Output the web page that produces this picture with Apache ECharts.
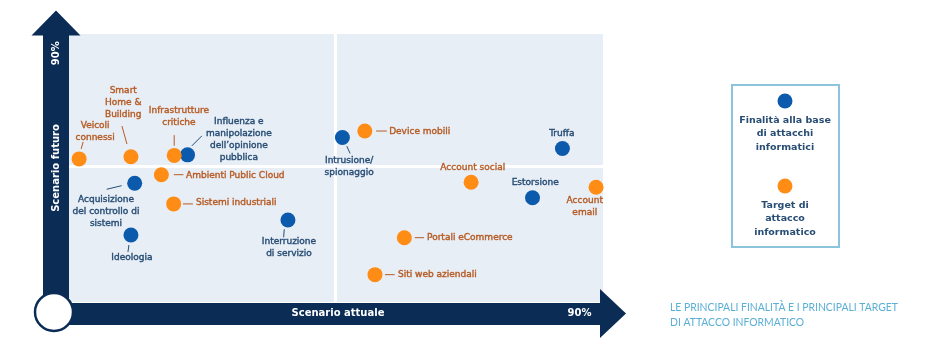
<!DOCTYPE html>
<html><head><meta charset="utf-8">
<script src="https://cdn.jsdelivr.net/npm/echarts@6/dist/echarts.min.js"></script>
<style>html,body{margin:0;padding:0;background:#fff}#c{width:950px;height:346px}</style>
</head><body><div id="c"></div>
<script>
// ---- data ----
const seriesNames = ['Finalità alla base di attacchi informatici', 'Target di attacco informatico'];
const legendLabels = ['Finalità alla base\ndi attacchi\ninformatici', 'Target di\nattacco\ninformatico'];

const finalitaNames = ['Influenza e\nmanipolazione\ndell’opinione\npubblica', 'Acquisizione\ndel controllo di\nsistemi', 'Ideologia', 'Interruzione\ndi servizio', 'Intrusione/\nspionaggio', 'Truffa', 'Estorsione'];
const finalitaX = [22.2, 12.3, 11.6, 41.0, 51.2, 92.4, 86.8];
const finalitaY = [54.9, 44.3, 25.0, 30.6, 61.4, 57.3, 38.9];

const targetNames = ['Veicoli\nconnessi', 'Smart\nHome &\nBuilding', 'Infrastrutture\ncritiche', 'Ambienti Public Cloud', 'Sistemi industriali', 'Device mobili', 'Account social', 'Account\nemail', 'Portali eCommerce', 'Siti web aziendali'];
const targetX = [1.9, 11.6, 19.7, 17.3, 19.6, 55.4, 75.3, 98.7, 62.8, 57.3];
const targetY = [53.4, 54.2, 54.7, 47.5, 36.6, 63.8, 44.7, 42.8, 24.0, 10.2];

const dividerX = 49.8, dividerY = 50.7;
const xTickValues = [95.6], xTickLabels = ['90%'];
const yTickValues = [92.8], yTickLabels = ['90%'];
const xAxisName = 'Scenario attuale', yAxisName = 'Scenario futuro';
const captionText = 'LE PRINCIPALI FINALITÀ E I PRINCIPALI TARGET\nDI ATTACCO INFORMATICO';

// ---- label layout (pixel styles) ----
const finalitaLabelPos = [[51.3,-15,'center'],[-28.7,28.7,'center'],[1,23,'center'],[1,28,'center'],[6.7,29.7,'center'],[-0.6,-14.3,'center'],[2.7,-14.7,'center']];
const targetLabelPos = [[16,-27.5,'center'],[-7.7,-53.7,'center'],[4.7,-38.3,'center'],[24.7,1.3,'left'],[22.3,-1,'left'],[24.3,1,'left'],[1.7,-14.3,'center'],[-11.3,19.7,'center'],[22.7,0.3,'left'],[23,0,'left']];
const finalitaLeaders = [[4.3,-9,14.3,-19],[-13,2.4,-28,6],[-2,10,-3,17],[-3.7,9.3,-4.3,17.3],[4.4,8.7,7.7,16],null,null];
const targetLeaders = [[2,-10,4,-17],[-4,-12.7,-9,-30.7],[0,-9.7,0,-20.3],[12.4,0,22,0],[9.3,0,19.3,0],[11.3,0,22,0],null,null,[10.4,0,19.7,0],[10,0,19.7,0]];

const NAVY = '#0b2c55', BG = '#e8eef6', BLUE = '#0b5aab', ORANGE = '#ff8c14';
const BLUE_TXT = '#274d74', ORANGE_TXT = '#b65b24', CAPTION = '#5aafd6', LEG_BORDER = '#8cc4de';
const FONT = 'DejaVu Sans';
const G = {left: 69, right: 603, top: 34, bottom: 302};

function buildPoints(names, xs, ys, pos, color) {
  return names.map((n, i) => ({
    name: n, value: [xs[i], ys[i]],
    label: {
      show: true, position: ['50%', '50%'], offset: [pos[i][0], pos[i][1]],
      align: pos[i][2], verticalAlign: 'middle', formatter: '{b}',
      color: color, fontSize: 9, lineHeight: 12, fontFamily: FONT,
      textBorderColor: color, textBorderWidth: 0.4
    }
  }));
}
const leaderData = [];
finalitaX.forEach((x, i) => leaderData.push([x, finalitaY[i], i, 0]));
targetX.forEach((x, i) => leaderData.push([x, targetY[i], i, 1]));

const chart = echarts.init(document.getElementById('c'), null, {renderer: 'canvas'});
chart.setOption({
  animation: false,
  textStyle: {fontFamily: FONT},
  grid: {left: G.left, right: 950 - G.right, top: G.top, bottom: 346 - G.bottom, show: true, backgroundColor: BG, borderWidth: 0, outerBoundsMode: 'none', containLabel: false},
  xAxis: {
    type: 'value', min: 0, max: 100, position: 'bottom', offset: 11.5,
    splitLine: {show: false}, axisTick: {show: false},
    axisLine: {show: true, onZero: false, symbol: ['none', 'triangle'], symbolSize: [49, 26], symbolOffset: [0, 10],
      lineStyle: {color: NAVY, width: 22}},
    axisLabel: {show: true, customValues: xTickValues, formatter: v => xTickLabels[xTickValues.indexOf(v)] || '',
      color: '#fff', fontWeight: 'bold', fontSize: 10, margin: 0, verticalAlign: 'middle', align: 'center'}
  },
  yAxis: {
    type: 'value', min: 0, max: 100, position: 'left', offset: 13,
    splitLine: {show: false}, axisTick: {show: false},
    axisLine: {show: true, onZero: false, symbol: ['none', 'triangle'], symbolSize: [49, 25], symbolOffset: [0, 11],
      lineStyle: {color: NAVY, width: 26}},
    axisLabel: {show: true, customValues: yTickValues, formatter: v => yTickLabels[yTickValues.indexOf(v)] || '',
      rotate: 90, color: '#fff', fontWeight: 'bold', fontSize: 10, margin: 0, verticalAlign: 'middle', align: 'center'}
  },
  series: [
    {
      type: 'line', data: [], silent: true, z: 1,
      markLine: {silent: true, symbol: 'none', label: {show: false}, animation: false,
        lineStyle: {color: '#ffffff', width: 3, type: 'solid'},
        emphasis: {disabled: true},
        data: [{xAxis: dividerX}, {yAxis: dividerY}]}
    },
    {
      type: 'custom', silent: true, z: 3, data: leaderData,
      renderItem: function (params, api) {
        const g = api.value(3), i = api.value(2);
        const L = (g === 0 ? finalitaLeaders : targetLeaders)[i];
        if (!L) return null;
        const p = api.coord([api.value(0), api.value(1)]);
        return {type: 'line', shape: {x1: p[0] + L[0], y1: p[1] + L[1], x2: p[0] + L[2], y2: p[1] + L[3]},
          style: {stroke: g === 0 ? BLUE_TXT : ORANGE_TXT, lineWidth: 1}};
      }
    },
    {
      name: seriesNames[0], type: 'scatter', symbolSize: 15, z: 5, silent: true,
      itemStyle: {color: BLUE, opacity: 1},
      data: buildPoints(finalitaNames, finalitaX, finalitaY, finalitaLabelPos, BLUE_TXT)
    },
    {
      name: seriesNames[1], type: 'scatter', symbolSize: 15, z: 5, silent: true,
      itemStyle: {color: ORANGE, opacity: 1},
      data: buildPoints(targetNames, targetX, targetY, targetLabelPos, ORANGE_TXT)
    }
  ],
  graphic: [
    {type: 'text', x: (G.left + G.right) / 2 + 2, y: G.bottom + 11.5, z: 100, style: {text: xAxisName, align: 'center', verticalAlign: 'middle', fill: '#fff', font: 'bold 10px "DejaVu Sans"'}},
    {type: 'text', x: G.left - 13, y: (G.top + G.bottom) / 2, rotation: Math.PI / 2, z: 100, style: {text: yAxisName, align: 'center', verticalAlign: 'middle', fill: '#fff', font: 'bold 10px "DejaVu Sans"'}},
    {type: 'circle', shape: {cx: 54, cy: 312, r: 19}, style: {fill: '#fff', stroke: NAVY, lineWidth: 2.5}, z: 100},
    {type: 'rect', shape: {x: 732, y: 85, width: 107, height: 162}, style: {fill: '#fff', stroke: LEG_BORDER, lineWidth: 2}, z: 100},
    {type: 'circle', shape: {cx: 785, cy: 101, r: 7.5}, style: {fill: BLUE}, z: 101},
    {type: 'text', x: 785, y: 134, z: 101, style: {text: legendLabels[0], align: 'center', verticalAlign: 'middle', fill: BLUE_TXT, font: 'bold 9.5px "DejaVu Sans"', lineHeight: 13.5}},
    {type: 'circle', shape: {cx: 785, cy: 186, r: 7.5}, style: {fill: ORANGE}, z: 101},
    {type: 'text', x: 785, y: 219, z: 101, style: {text: legendLabels[1], align: 'center', verticalAlign: 'middle', fill: BLUE_TXT, font: 'bold 9.5px "DejaVu Sans"', lineHeight: 13.3}},
    {type: 'text', x: 670, y: 299, scaleX: 0.865, z: 101, style: {text: captionText, align: 'left', verticalAlign: 'top', fill: CAPTION, font: '12px Lato', lineHeight: 15.7}}
  ]
});
</script>
</body></html>
